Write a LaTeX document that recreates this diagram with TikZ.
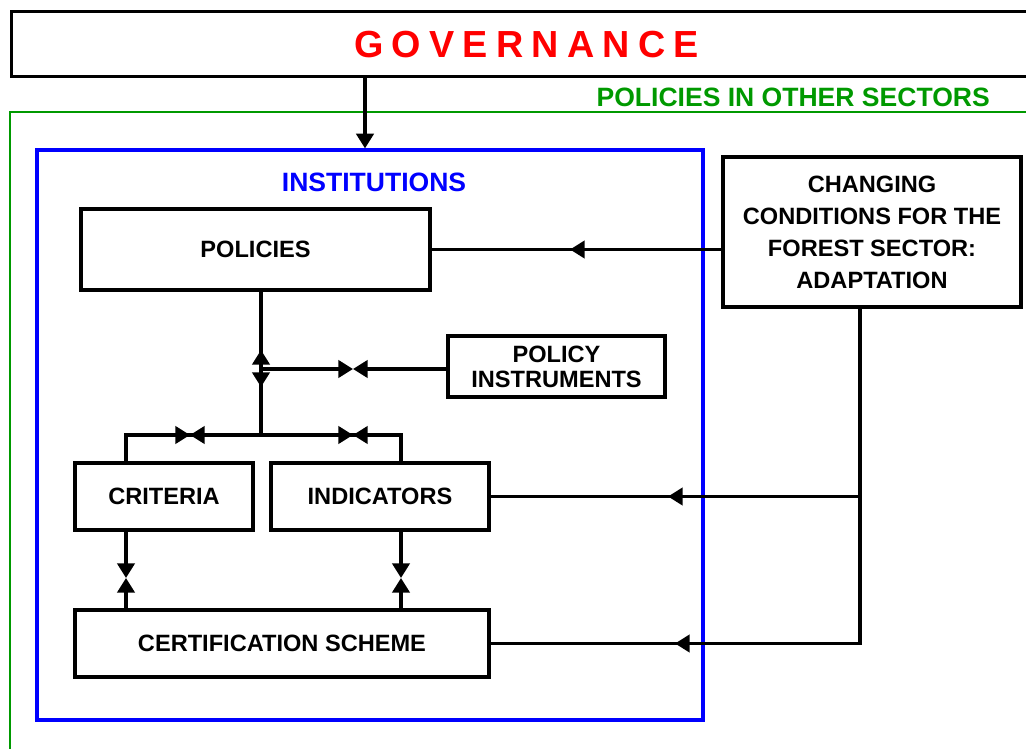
\documentclass[tikz,border=0pt]{standalone}
\usepackage{fontspec}
\setmainfont{Liberation Sans}
\usetikzlibrary{arrows.meta,positioning,calc}
\definecolor{govred}{HTML}{FF0000}
\definecolor{sectorgreen}{HTML}{009900}
\definecolor{instblue}{HTML}{0000FF}

\begin{document}
\begin{tikzpicture}[x=0.75pt, y=-0.75pt,
  box/.style={draw, line width=2.3pt, align=center, inner sep=0pt, font=\fontsize{17.7pt}{24pt}\selectfont\bfseries},
  title/.style={inner sep=0pt, font=\fontsize{19.9pt}{24pt}\selectfont\bfseries},
  link/.style={line width=2.4pt},
  arr/.style={-{Triangle[length=11pt,width=13pt]}, line width=2.4pt}
]
  \useasboundingbox (0,0) rectangle (1026,749);
  \clip (0,0) rectangle (1026,749);

  % frames
  \node[draw, line width=2.4pt, minimum width=772.5pt, minimum height=48.75pt, anchor=north west, text=govred,
        font=\fontsize{28.3pt}{30pt}\selectfont\bfseries\addfontfeature{LetterSpace=21.8}] (gov) at (10,10) {GOVERNANCE\hspace{-6pt}};
  \draw[sectorgreen, line width=2.2pt] (1040,112) -- (10,112) -- (10,760);
  \node[title, anchor=base east, text=sectorgreen] (sectors) at (990,107) {POLICIES IN OTHER SECTORS};
  \node[draw=instblue, line width=2.4pt, minimum width=499.5pt, minimum height=427.5pt] (inst) at (370,435) {};
  \node[title, text=instblue] (insttitle) at (374,182) {INSTITUTIONS};

  % boxes
  \node[box, minimum width=261.75pt, minimum height=60.75pt] (pol) at (255.5,249.5) {POLICIES};
  \node[box, minimum width=162.75pt, minimum height=45.75pt, font=\fontsize{17.7pt}{18.75pt}\selectfont\bfseries] (instr) at (556.5,366.5) {POLICY\\INSTRUMENTS};
  \node[box, minimum width=133.5pt, minimum height=50.25pt] (crit) at (164,496.5) {CRITERIA};
  \node[box, minimum width=163.5pt, minimum height=50.25pt] (ind) at (380,496.5) {INDICATORS};
  \node[box, minimum width=310.5pt, minimum height=50.25pt] (cert) at (282,643.5) {CERTIFICATION SCHEME};
  \node[box, minimum width=223.5pt, minimum height=112.5pt] (cond) at (872,232) {CHANGING\\CONDITIONS FOR THE\\FOREST SECTOR:\\ADAPTATION};

  % junctions and arrow meeting points
  \coordinate (govx) at (365,0);
  \coordinate (jpol) at (261,369);
  \coordinate (jsplit) at (261,435);
  \coordinate (bowpol) at (353,369);
  \coordinate (lcrit) at (126,435);
  \coordinate (rind) at (401,435);
  \coordinate (bowcrit) at (190,435);
  \coordinate (bowind) at (353,435);
  \coordinate (hcrit) at (126,578);
  \coordinate (hind) at (401,578);
  \coordinate (cdrop) at (860,643.5);
  \coordinate (tippol) at (570,249.5);
  \coordinate (tipind) at (668,496.5);
  \coordinate (tipcert) at (675,643.5);

  % connectors
  \draw[arr] (gov.south -| govx) -- (inst.north -| govx);
  \draw[link] (pol.south -| jpol) -- (jsplit);
  \draw[arr] (jpol) -- ++(0,-19);
  \draw[arr] (jpol) -- ++(0,18);
  \draw[arr] (jpol) -- (bowpol);
  \draw[arr] (instr.west |- jpol) -- (bowpol);
  \draw[link] (crit.north -| lcrit) -- (lcrit) -- (rind) -- (ind.north -| rind);
  \draw[arr] (lcrit) -- (bowcrit);
  \draw[arr] (jsplit) -- (bowcrit);
  \draw[arr] (jsplit) -- (bowind);
  \draw[arr] (rind) -- (bowind);
  \draw[arr] (crit.south -| hcrit) -- (hcrit);
  \draw[arr] (cert.north -| hcrit) -- (hcrit);
  \draw[arr] (ind.south -| hind) -- (hind);
  \draw[arr] (cert.north -| hind) -- (hind);

  \draw[link] (cond.west |- pol.east) -- (pol.east);
  \draw[arr] (cond.west |- pol.east) -- (tippol);
  \draw[link] (cond.south -| cdrop) -- (cdrop) -- (cert.east);
  \draw[link] (ind.east -| cdrop) -- (ind.east);
  \draw[arr] (ind.east -| cdrop) -- (tipind);
  \draw[arr] (cdrop) -- (tipcert);
\end{tikzpicture}
\end{document}
